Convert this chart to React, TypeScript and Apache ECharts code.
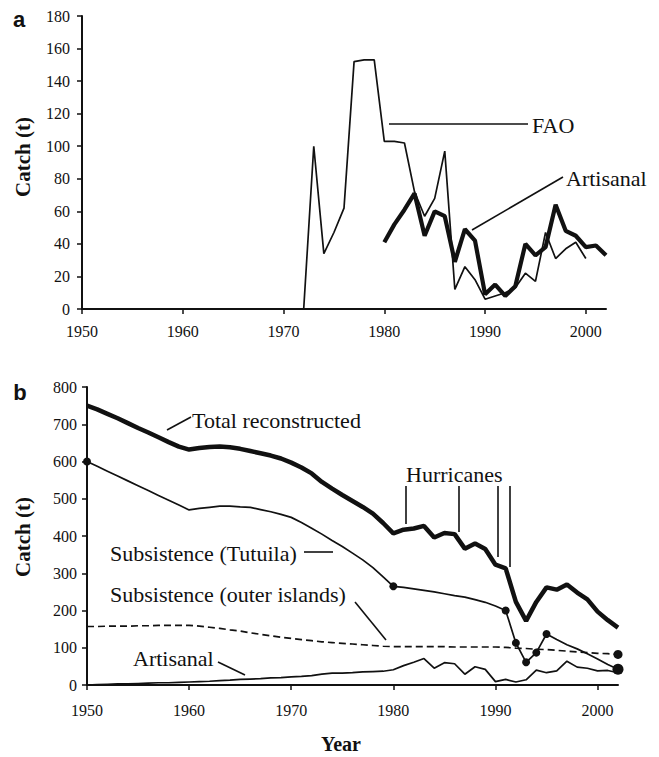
import React, { useEffect, useRef } from "react";
import * as echarts from "echarts";

// Panel a
const faoStart = 1972;
const faoCatch = [0, 100, 34, 47, 62, 152, 153, 153, 103, 103, 102, 72, 57, 68, 97, 12, 26, 18, 6, 8, 10, 13, 22, 17, 47, 31, 37, 41, 31];
const artisanalRecentStart = 1980;
const artisanalRecent = [41, 52, 61, 71, 45, 60, 57, 29, 49, 42, 9, 15, 8, 14, 40, 33, 38, 64, 48, 45, 38, 39, 33];

// Panel b (1950-2002)
const yearStart = 1950;
const totalReconstructed = [750, 740, 728, 716, 703, 690, 678, 665, 652, 640, 632, 636, 639, 640, 638, 634, 628, 622, 616, 608, 597, 584, 568, 545, 527, 510, 494, 478, 460, 435, 407, 417, 420, 427, 396, 408, 405, 366, 380, 365, 323, 313, 223, 172, 223, 262, 256, 270, 248, 230, 197, 174, 154];
const subsistenceTutuila = [600, 587, 574, 561, 548, 535, 522, 509, 496, 483, 470, 474, 477, 480, 480, 478, 477, 471, 465, 458, 450, 436, 421, 405, 388, 372, 354, 336, 315, 290, 265, 262, 258, 254, 250, 245, 240, 236, 229, 222, 212, 200, 113, 61, 87, 137, 122, 108, 97, 84, 70, 55, 42];
const subsistenceOuter = [157, 157, 158, 158, 158, 159, 159, 160, 160, 160, 160, 158, 155, 152, 148, 145, 140, 136, 132, 128, 125, 122, 119, 116, 114, 112, 110, 108, 106, 104, 103, 103, 103, 103, 103, 103, 102, 102, 102, 102, 102, 101, 99, 98, 96, 95, 93, 91, 89, 87, 85, 84, 82];
const artisanalEarly = [0, 1, 2, 3, 3, 4, 5, 6, 6, 7, 8, 9, 10, 12, 13, 15, 16, 17, 19, 20, 22, 23, 25, 29, 32, 32, 33, 35, 36, 37];
const artisanalAll = [...artisanalEarly, ...artisanalRecent];
const tutuilaDotYears = [1950, 1980, 1991, 1992, 1993, 1994, 1995];
const endDotYear = 2002;

const xTickValues = [1950, 1960, 1970, 1980, 1990, 2000];
const yTicksA = { min: 0, max: 180, interval: 20 };
const yTicksB = { min: 0, max: 800, interval: 100 };

const toPairs = (start: number, arr: number[]) => arr.map((v, i) => [start + i, v]);

const SERIF = "Liberation Serif";
const SERIF_CSS = '"Liberation Serif", "Times New Roman", serif';
const INK = "#111";

export default function App() {
  const ref = useRef<HTMLDivElement>(null);
  useEffect(() => {
    if (!ref.current) return;
    const chart = echarts.init(ref.current, undefined, { renderer: "svg" });

    const xAxisCommon = (idx: number, margin: number) => ({
      type: "value",
      gridIndex: idx,
      min: 1950,
      max: 2002,
      interval: 10,
      axisLine: { lineStyle: { color: INK, width: 2 } },
      axisTick: { length: 5, lineStyle: { color: INK, width: 1.5 }, customValues: xTickValues },
      axisLabel: {
        color: INK,
        fontFamily: SERIF_CSS,
        fontSize: 16,
        margin,
        customValues: xTickValues,
        formatter: (v: number) => String(v),
      },
      splitLine: { show: false },
    });
    const yAxisCommon = (idx: number, t: any, margin: number) => ({
      type: "value",
      gridIndex: idx,
      min: t.min,
      max: t.max,
      interval: t.interval,
      axisLine: { show: true, lineStyle: { color: INK, width: 2 } },
      axisTick: { show: true, length: 5, lineStyle: { color: INK, width: 1.5 } },
      axisLabel: { color: INK, fontFamily: SERIF_CSS, fontSize: 16, margin, formatter: (v: number) => String(v) },
      splitLine: { show: false },
    });

    const line = (x: number, y: number, data: any, width: number, extra: any = {}) => ({
      type: "line",
      xAxisIndex: x,
      yAxisIndex: y,
      data,
      showSymbol: false,
      symbol: "none",
      lineStyle: { color: INK, width, ...(extra.lineStyle || {}) },
      z: extra.z || 2,
    });

    const dotSeries = (data: any, size: number) => ({
      type: "scatter",
      xAxisIndex: 1,
      yAxisIndex: 1,
      data,
      symbol: "circle",
      symbolSize: size,
      itemStyle: { color: INK, opacity: 1 },
      z: 5,
    });

    const txt = (x: number, y: number, text: string, size = 22, extra: any = {}) => ({
      type: "text",
      x,
      y,
      style: {
        text,
        fill: INK,
        font: `${extra.weight || "normal"} ${size}px "${extra.family || SERIF}"`,
        align: extra.align || "left",
        verticalAlign: "middle",
      },
      rotation: extra.rotation || 0,
    });
    const seg = (x1: number, y1: number, x2: number, y2: number) => ({
      type: "line",
      shape: { x1, y1, x2, y2 },
      style: { stroke: INK, lineWidth: 1.6 },
    });

    const tutuilaDots = tutuilaDotYears.map((yr) => [yr, subsistenceTutuila[yr - yearStart]]);
    const endIdx = endDotYear - yearStart;

    chart.setOption({
      animation: false,
      backgroundColor: "#fff",
      grid: [
        { left: 82, top: 16, width: 524, height: 293, outerBoundsMode: "none", containLabel: false },
        { left: 87, top: 387, width: 531, height: 298, outerBoundsMode: "none", containLabel: false },
      ],
      xAxis: [xAxisCommon(0, 14), xAxisCommon(1, 17)],
      yAxis: [yAxisCommon(0, yTicksA, 12), yAxisCommon(1, yTicksB, 10)],
      series: [
        line(0, 0, toPairs(faoStart, faoCatch), 1.7),
        line(0, 0, toPairs(artisanalRecentStart, artisanalRecent), 4.2, { z: 3 }),
        line(1, 1, toPairs(yearStart, totalReconstructed), 4.5, { z: 3 }),
        line(1, 1, toPairs(yearStart, subsistenceTutuila), 1.7),
        line(1, 1, toPairs(yearStart, subsistenceOuter), 1.7, { lineStyle: { type: [7, 4] } }),
        line(1, 1, toPairs(yearStart, artisanalAll), 1.7),
        dotSeries(tutuilaDots, 8),
        dotSeries([[endDotYear, subsistenceOuter[endIdx]]], 9),
        dotSeries([[endDotYear, subsistenceTutuila[endIdx]]], 11),
      ],
      graphic: [
        txt(19, 19, "a", 22, { weight: "bold", family: "Liberation Sans", align: "center" }),
        txt(20, 392, "b", 22, { weight: "bold", family: "Liberation Sans", align: "center" }),
        { ...txt(23, 157, "Catch (t)", 21, { weight: "bold", align: "center" }), rotation: Math.PI / 2 },
        { ...txt(23, 537, "Catch (t)", 21, { weight: "bold", align: "center" }), rotation: Math.PI / 2 },
        txt(341, 744, "Year", 20, { weight: "bold", align: "center" }),
        seg(389, 124, 528, 124),
        txt(532, 125, "FAO"),
        seg(472, 230, 563, 177),
        txt(566, 178, "Artisanal"),
        seg(167, 430, 191, 417),
        txt(192, 420, "Total reconstructed"),
        txt(406, 474, "Hurricanes"),
        seg(406, 486, 406, 524),
        seg(459, 486, 459, 532),
        seg(498, 486, 498, 557),
        seg(510, 486, 510, 567),
        txt(110, 553, "Subsistence (Tutuila)"),
        seg(304, 552, 333, 552),
        txt(110, 594, "Subsistence (outer islands)"),
        seg(355, 602, 386, 640),
        txt(133, 658, "Artisanal"),
        seg(218, 662, 245, 675),
      ],
    });
    return () => chart.dispose();
  }, []);
  return <div ref={ref} style={{ position: "absolute", left: 0, top: 0, width: 659, height: 757 }} />;
}
